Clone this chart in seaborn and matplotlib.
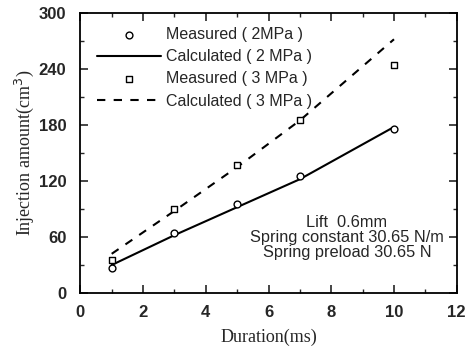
import matplotlib
matplotlib.use("Agg")
import matplotlib.pyplot as plt
import seaborn as sns
import pandas as pd

duration = [1, 3, 5, 7, 10]
measured_2mpa = [27, 64, 95, 125, 176]
calculated_2mpa = [30, 62, 92, 122, 178]
measured_3mpa = [35, 90, 137, 185, 244]
calculated_3mpa = [42, 88, 135, 185, 272]

sns.set_theme(style="ticks")
plt.rcParams['font.family'] = ['Liberation Sans', 'DejaVu Sans']

df = pd.DataFrame({
    "duration": duration,
    "m2": measured_2mpa, "c2": calculated_2mpa,
    "m3": measured_3mpa, "c3": calculated_3mpa,
})

fig, ax = plt.subplots(figsize=(4.67, 3.56), dpi=100)
fig.subplots_adjust(left=0.172, right=0.978, top=0.963, bottom=0.177)

sns.scatterplot(data=df, x="duration", y="m2", ax=ax, marker="o", s=24,
                facecolor="white", edgecolor="black", linewidth=1.0,
                label="Measured ( 2MPa )", zorder=3)
sns.lineplot(data=df, x="duration", y="c2", ax=ax, color="black", lw=1.5,
             label="Calculated ( 2 MPa )")
sns.scatterplot(data=df, x="duration", y="m3", ax=ax, marker="s", s=24,
                facecolor="white", edgecolor="black", linewidth=1.0,
                label="Measured ( 3 MPa )", zorder=3)
sns.lineplot(data=df, x="duration", y="c3", ax=ax, color="black", lw=1.5,
             linestyle=(0, (4, 4)), label="Calculated ( 3 MPa )")

ax.set_xlim(0, 12)
ax.set_ylim(0, 300)
ax.set_xticks(range(0, 13, 2))
ax.set_xticks(range(1, 12, 2), minor=True)
ax.set_yticks(range(0, 301, 60))
ax.set_yticks(range(30, 300, 60), minor=True)
ax.tick_params(axis="both", which="major", direction="in", length=6, width=1.2,
               labelsize=12, top=True, right=True)
ax.tick_params(axis="x", which="major", pad=9)
ax.tick_params(axis="y", which="major", pad=10)
ax.tick_params(axis="both", which="minor", direction="in", length=3, width=1.0,
               top=True, right=True)
for lab in ax.get_xticklabels() + ax.get_yticklabels():
    lab.set_fontweight("bold")
for sp in ax.spines.values():
    sp.set_linewidth(1.3)
    sp.set_color("black")

ax.set_xlabel("Duration(ms)", family="Liberation Serif", fontsize=13, labelpad=6)
ax.set_ylabel("Injection amount(cm$^3$)", family="Liberation Serif", fontsize=13, labelpad=2)

leg = ax.legend(loc="upper left", bbox_to_anchor=(0.02, 0.985), frameon=False,
                fontsize=11.5, handlelength=4.0, handletextpad=0.3,
                labelspacing=0.45, borderaxespad=0.2)

ax.text(8.5, 60, "Lift  0.6mm\nSpring constant 30.65 N/m\nSpring preload 30.65 N",
        ha="center", va="center", fontsize=11.8, linespacing=1.0)

fig.savefig("out.png", dpi=100)
